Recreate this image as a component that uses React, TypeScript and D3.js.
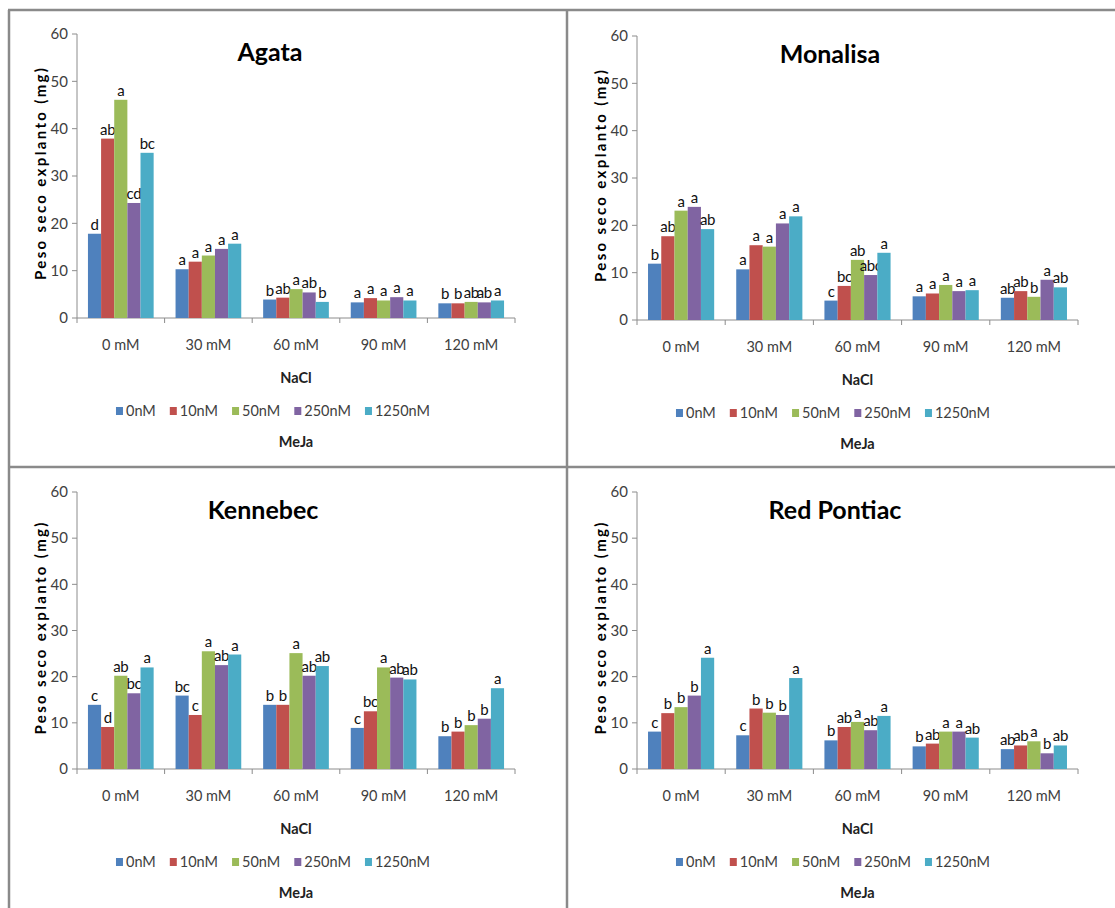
import React, { useEffect, useRef } from 'react';
import * as d3 from 'd3';

// NaCl levels (x categories) and MeJa doses (series)
const categories = ['0 mM', '30 mM', '60 mM', '90 mM', '120 mM'];
const series = ['0nM', '10nM', '50nM', '250nM', '1250nM'];
const colors = ['#4F81BD', '#C0504D', '#9BBB59', '#8064A2', '#4BACC6'];
const yTicks = [0, 10, 20, 30, 40, 50, 60];

// values[category][series]
const agataValues = [
  [17.8, 37.9, 46.1, 24.3, 34.9],
  [10.3, 11.9, 13.2, 14.6, 15.7],
  [3.9, 4.3, 6.1, 5.4, 3.4],
  [3.3, 4.2, 3.7, 4.4, 3.7],
  [3.1, 3.1, 3.4, 3.3, 3.7],
];
const agataLetters = [
  ['d', 'ab', 'a', 'cd', 'bc'],
  ['a', 'a', 'a', 'a', 'a'],
  ['b', 'ab', 'a', 'ab', 'b'],
  ['a', 'a', 'a', 'a', 'a'],
  ['b', 'b', 'ab', 'ab', 'a'],
];

const monalisaValues = [
  [11.9, 17.7, 23.1, 23.9, 19.2],
  [10.7, 15.8, 15.5, 20.4, 21.9],
  [4.1, 7.2, 12.7, 9.5, 14.2],
  [5.0, 5.6, 7.4, 6.1, 6.3],
  [4.7, 6.1, 4.9, 8.5, 6.9],
];
const monalisaLetters = [
  ['b', 'ab', 'a', 'a', 'ab'],
  ['a', 'a', 'a', 'a', 'a'],
  ['c', 'bc', 'ab', 'abc', 'a'],
  ['a', 'a', 'a', 'a', 'a'],
  ['ab', 'ab', 'b', 'a', 'ab'],
];

const kennebecValues = [
  [13.9, 9.1, 20.2, 16.4, 22.0],
  [15.9, 11.7, 25.5, 22.5, 24.8],
  [13.9, 13.9, 25.1, 20.2, 22.3],
  [8.9, 12.5, 22.0, 19.8, 19.4],
  [7.1, 8.1, 9.5, 10.9, 17.5],
];
const kennebecLetters = [
  ['c', 'd', 'ab', 'bc', 'a'],
  ['bc', 'c', 'a', 'ab', 'a'],
  ['b', 'b', 'a', 'ab', 'ab'],
  ['c', 'bc', 'a', 'ab', 'ab'],
  ['b', 'b', 'b', 'b', 'a'],
];

const redPontiacValues = [
  [8.1, 12.1, 13.4, 15.9, 24.1],
  [7.3, 13.1, 12.2, 11.7, 19.7],
  [6.2, 9.1, 10.2, 8.4, 11.5],
  [4.9, 5.5, 8.1, 8.1, 6.8],
  [4.3, 5.1, 6.0, 3.4, 5.1],
];
const redPontiacLetters = [
  ['c', 'b', 'b', 'b', 'a'],
  ['c', 'b', 'b', 'b', 'a'],
  ['b', 'ab', 'a', 'ab', 'a'],
  ['b', 'ab', 'a', 'a', 'ab'],
  ['ab', 'ab', 'a', 'b', 'ab'],
];

const panels = [
  { title: 'Agata', values: agataValues, letters: agataLetters, ox: 0, oy: 0, top: 34, h: 284, w: 438, tx: 193 },
  { title: 'Monalisa', values: monalisaValues, letters: monalisaLetters, ox: 560, oy: 0, top: 36, h: 284, w: 441, tx: 193 },
  { title: 'Kennebec', values: kennebecValues, letters: kennebecLetters, ox: 0, oy: 460, top: 32, h: 277, w: 438, tx: 186 },
  { title: 'Red Pontiac', values: redPontiacValues, letters: redPontiacLetters, ox: 560, oy: 460, top: 32, h: 277, w: 441, tx: 198 },
];

const width = 1115;
const height = 908;
const font = 'Lato, "Open Sans", sans-serif';
const axisColor = '#8c8c8c';
const textGray = '#404040';

const App = () => {
  const svgRef = useRef<SVGSVGElement>(null);

  useEffect(() => {
    const svg = d3.select(svgRef.current);
    svg.selectAll('*').remove();

    // frame lines
    const frame = svg.append('g').attr('stroke', '#8a8a8a').attr('stroke-width', 2.5);
    frame.append('line').attr('x1', 8).attr('x2', width).attr('y1', 10).attr('y2', 10);
    frame.append('line').attr('x1', 9).attr('x2', 9).attr('y1', 10).attr('y2', height);
    frame.append('line').attr('x1', 567).attr('x2', 567).attr('y1', 10).attr('y2', height);
    frame.append('line').attr('x1', 8).attr('x2', width).attr('y1', 467).attr('y2', 467);

    panels.forEach(p => {
      const marginLeft = 77;
      const g = svg.append('g').attr('transform', `translate(${p.ox + marginLeft},${p.oy + p.top})`);

      const x0 = d3.scaleBand<string>().domain(categories).range([0, p.w]).paddingInner(0.25).paddingOuter(0.125);
      const x1 = d3.scaleBand<string>().domain(series).range([0, x0.bandwidth()]);
      const y = d3.scaleLinear().domain([0, 60]).range([p.h, 0]);

      // y axis
      g.append('line').attr('x1', 0).attr('x2', 0).attr('y1', 0).attr('y2', p.h)
        .attr('stroke', axisColor).attr('stroke-width', 1);
      yTicks.forEach(t => {
        g.append('line').attr('x1', -5).attr('x2', 0).attr('y1', y(t)).attr('y2', y(t))
          .attr('stroke', axisColor);
        g.append('text').attr('x', -9).attr('y', y(t)).attr('dy', '0.35em')
          .attr('text-anchor', 'end').attr('font-family', font).attr('font-size', 15)
          .attr('fill', textGray).text(t);
      });

      // x axis
      g.append('line').attr('x1', 0).attr('x2', p.w).attr('y1', p.h).attr('y2', p.h)
        .attr('stroke', axisColor);
      d3.range(categories.length + 1).forEach(i => {
        const xx = i * x0.step();
        g.append('line').attr('x1', xx).attr('x2', xx).attr('y1', p.h).attr('y2', p.h + 5)
          .attr('stroke', axisColor);
      });
      categories.forEach(c => {
        g.append('text').attr('x', x0(c)! + x0.bandwidth() / 2).attr('y', p.h + 27).attr('dy', '0.35em')
          .attr('text-anchor', 'middle').attr('font-family', font).attr('font-size', 14.5)
          .attr('fill', textGray).text(c);
      });

      // bars
      categories.forEach((c, ci) => {
        const grp = g.append('g').attr('transform', `translate(${x0(c)},0)`);
        series.forEach((s, si) => {
          const v = p.values[ci][si];
          grp.append('rect').attr('x', x1(s)!).attr('y', y(v))
            .attr('width', x1.bandwidth()).attr('height', p.h - y(v))
            .attr('fill', colors[si]);
          grp.append('text').attr('x', x1(s)! + x1.bandwidth() / 2).attr('y', y(v) - 4)
            .attr('text-anchor', 'middle').attr('font-family', font).attr('font-size', 15)
            .attr('letter-spacing', -0.4)
            .attr('fill', '#111').text(p.letters[ci][si]);
        });
      });

      // title
      g.append('text').attr('x', p.tx).attr('y', 18).attr('dy', '0.35em')
        .attr('text-anchor', 'middle').attr('font-family', font).attr('font-weight', 'bold')
        .attr('font-size', 25).attr('fill', '#000').text(p.title);

      // y label
      g.append('text').attr('transform', `translate(-36,${p.h * 0.5 - 2}) rotate(-90)`)
        .attr('text-anchor', 'middle').attr('dy', '0.35em').attr('font-family', font)
        .attr('font-weight', 'bold').attr('font-size', 15).attr('fill', '#000')
        .attr('textLength', 212).attr('lengthAdjust', 'spacing')
        .text('Peso seco explanto (mg)');

      // x title
      g.append('text').attr('x', p.w / 2).attr('y', p.h + 60).attr('dy', '0.35em')
        .attr('text-anchor', 'middle').attr('font-family', font).attr('font-weight', 'bold')
        .attr('font-size', 14.5).attr('fill', '#222').text('NaCl');

      // legend
      const legend = g.append('g');
      let lx = 0;
      series.forEach((s, si) => {
        legend.append('rect').attr('x', lx).attr('y', p.h + 93 - 4).attr('width', 7).attr('height', 8)
          .attr('fill', colors[si]);
        const t = legend.append('text').attr('x', lx + 10).attr('y', p.h + 93).attr('dy', '0.35em')
          .attr('font-family', font).attr('font-size', 14.5).attr('fill', textGray).text(s);
        const tw = (t.node() as SVGTextElement).getComputedTextLength();
        lx += 10 + tw + 14;
      });
      const legendW = lx - 14;
      legend.attr('transform', `translate(${196 - legendW / 2},0)`);

      g.append('text').attr('x', p.w / 2).attr('y', p.h + 124).attr('dy', '0.35em')
        .attr('text-anchor', 'middle').attr('font-family', font).attr('font-weight', 'bold')
        .attr('font-size', 14.5).attr('fill', '#222').text('MeJa');
    });
  }, []);

  return (
    <svg
      ref={svgRef}
      width={width}
      height={height}
      viewBox={`0 0 ${width} ${height}`}
      style={{ position: 'absolute', left: 0, top: 0, background: '#fff' }}
    />
  );
};

export default App;
